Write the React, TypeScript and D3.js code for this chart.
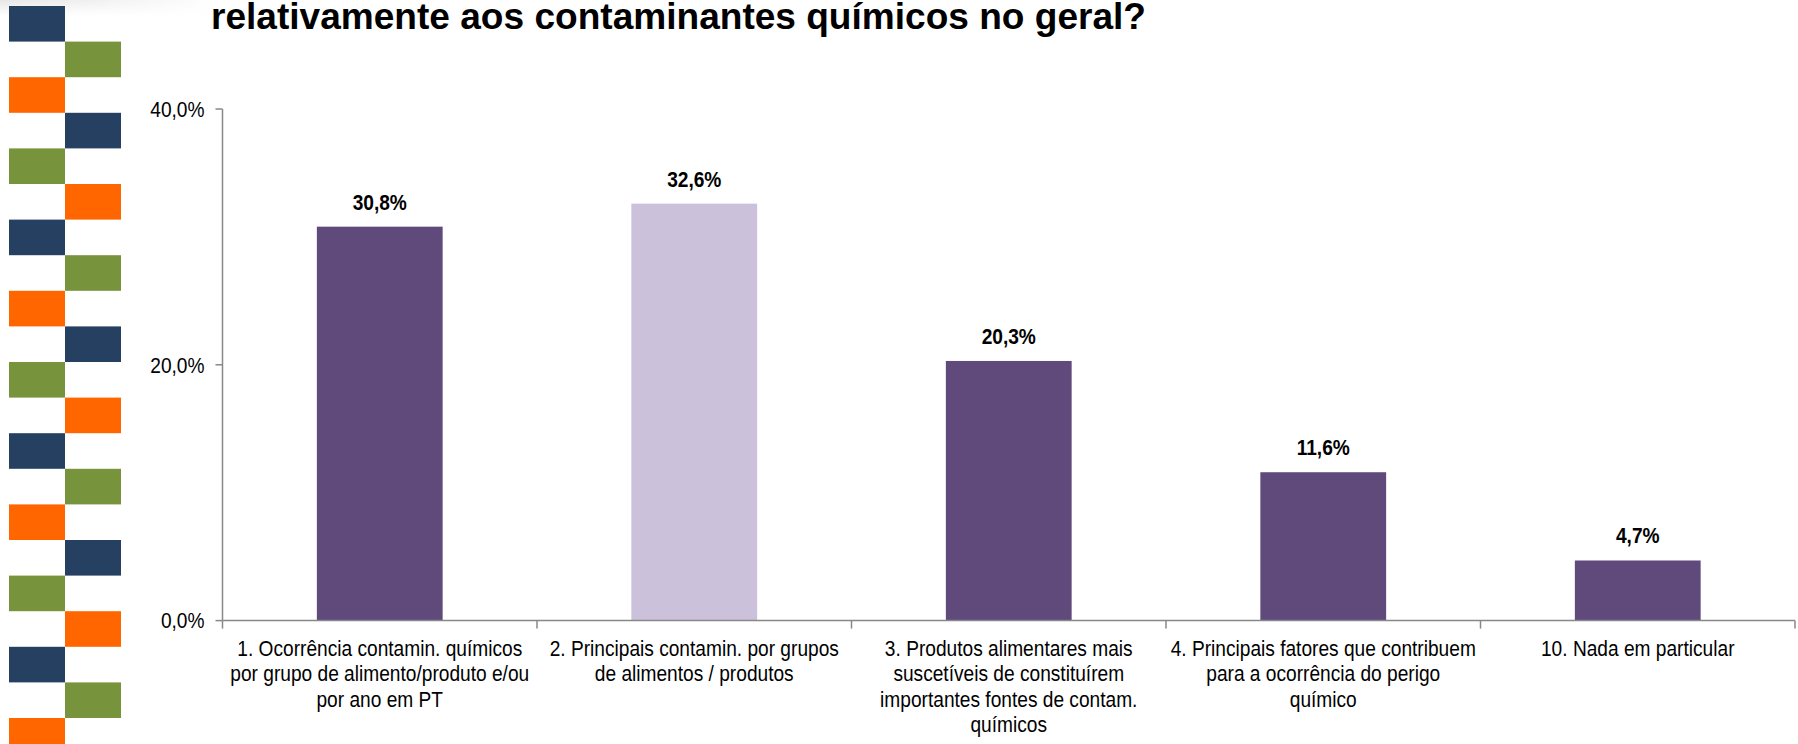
import React from "react";
import * as d3 from "d3";

const title = "relativamente aos contaminantes químicos no geral?";
const categories = ["c1", "c2", "c3", "c4", "c10"];
const categoryLabels: string[][] = [
  ["1. Ocorrência contamin. químicos", "por grupo de alimento/produto e/ou", "por ano em PT"],
  ["2. Principais contamin. por grupos", "de alimentos / produtos"],
  ["3. Produtos alimentares mais", "suscetíveis de constituírem", "importantes fontes de contam.", "químicos"],
  ["4. Principais fatores que contribuem", "para a ocorrência do perigo", "químico"],
  ["10. Nada em particular"],
];
const values = [30.8, 32.6, 20.3, 11.6, 4.7];
const highlighted = [false, true, false, false, false];
const yTicks = [0, 20, 40];
const decoColors = ["#264061", "#77933C", "#FF6600"];

const W = 1798;
const H = 744;
const FONT = "'Liberation Sans', Arial, sans-serif";
const NARROW_SCALE = 0.87;

function NText(props: {
  x: number;
  y: number;
  anchor?: "start" | "middle" | "end";
  bold?: boolean;
  size?: number;
  dy?: string;
  children: React.ReactNode;
}) {
  const { x, y, anchor = "middle", bold = false, size = 22, dy, children } = props;
  return (
    <g transform={`translate(${x},${y}) scale(${NARROW_SCALE},1)`}>
      <text
        x={0}
        y={0}
        dy={dy}
        textAnchor={anchor}
        fontFamily={FONT}
        fontWeight={bold ? "bold" : "normal"}
        fontSize={size}
        fill="#000"
      >
        {children}
      </text>
    </g>
  );
}

export default function App() {
  const left = 222.5;
  const right = 1795;
  const top = 109;
  const bottom = 620.6;

  const x = d3.scaleBand<string>().domain(categories).range([left, right]).padding(0);
  const y = d3.scaleLinear().domain([0, 40]).range([bottom, top]);
  const bw = x.bandwidth() * 0.4;
  const fmt = (v: number) => v.toFixed(1).replace(".", ",") + "%";

  const blockH = 35.6;
  const blocks = d3.range(21).map((i) => ({
    i,
    x: i % 2 === 0 ? 9 : 65,
    y: 6 + i * blockH,
    color: decoColors[i % 3],
  }));

  return (
    <svg width={W} height={H} style={{ position: "absolute", left: 0, top: 0, background: "#fff" }}>
      <defs>
        <linearGradient id="topfade" x1="0" x2="1" y1="0" y2="0">
          <stop offset="0" stopColor="#e6e6e6" />
          <stop offset="1" stopColor="#ffffff" />
        </linearGradient>
        <linearGradient id="topfadeV" x1="0" x2="0" y1="0" y2="1">
          <stop offset="0" stopColor="#ffffff" stopOpacity="0" />
          <stop offset="1" stopColor="#ffffff" stopOpacity="1" />
        </linearGradient>
      </defs>
      <rect x={0} y={0} width={220} height={16} fill="url(#topfade)" />
      <rect x={0} y={0} width={220} height={16} fill="url(#topfadeV)" />
      {blocks.map((b) => (
        <rect key={b.i} x={b.x} y={b.y} width={56} height={blockH} fill={b.color} />
      ))}
      <text
        x={211}
        y={29}
        fontFamily={FONT}
        fontWeight="bold"
        fontSize={36}
        textLength={935}
        lengthAdjust="spacingAndGlyphs"
        fill="#000"
      >
        {title}
      </text>

      {/* y axis */}
      <line x1={left} x2={left} y1={top} y2={bottom} stroke="#888" strokeWidth={1.5} />
      {yTicks.map((t) => (
        <g key={t}>
          <line x1={left - 7} x2={left} y1={y(t)} y2={y(t)} stroke="#888" strokeWidth={1.5} />
          <NText x={left - 18} y={y(t)} dy="0.35em" anchor="end">
            {fmt(t)}
          </NText>
        </g>
      ))}

      {/* bars */}
      {categories.map((c, i) => {
        const cx = (x(c) as number) + x.bandwidth() / 2;
        return (
          <g key={c}>
            <rect
              x={cx - bw / 2}
              y={y(values[i])}
              width={bw}
              height={bottom - y(values[i])}
              fill={highlighted[i] ? "#CCC1DA" : "#604A7B"}
            />
            <NText x={cx} y={y(values[i]) - 17} bold>
              {fmt(values[i])}
            </NText>
            {categoryLabels[i].map((ln, j) => (
              <NText key={j} x={cx} y={656 + j * 25.3}>
                {ln}
              </NText>
            ))}
          </g>
        );
      })}

      {/* x axis */}
      <line x1={left} x2={right} y1={bottom} y2={bottom} stroke="#888" strokeWidth={1.5} />
      {categories.map((c) => (
        <line key={c} x1={x(c) as number} x2={x(c) as number} y1={bottom} y2={bottom + 8} stroke="#888" strokeWidth={1.5} />
      ))}
      <line x1={right} x2={right} y1={bottom} y2={bottom + 8} stroke="#888" strokeWidth={1.5} />
    </svg>
  );
}
